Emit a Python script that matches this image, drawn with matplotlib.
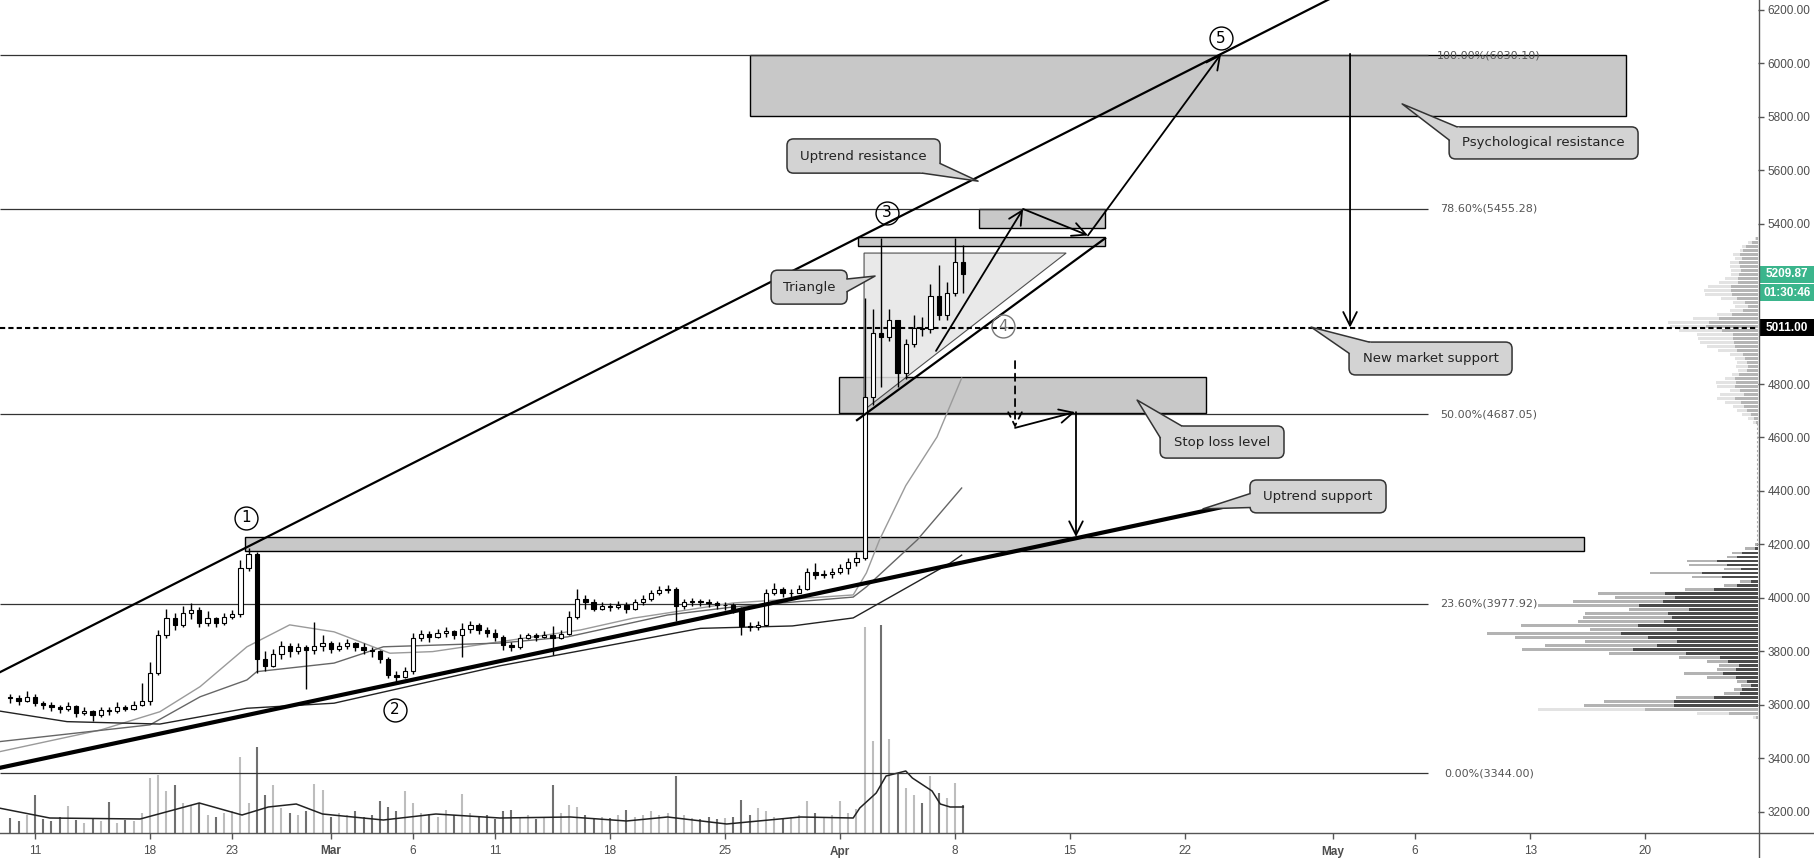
import numpy as np
import matplotlib.pyplot as plt
from matplotlib.patches import Rectangle, Polygon, FancyBboxPatch

# time axis: days since 10 Feb 2019, one candle every half day
closes = [3625, 3615, 3630, 3605, 3600, 3590, 3585, 3595, 3570, 3575, 3560, 3580, 3575, 3590, 3585, 3600,
          3615, 3720, 3860, 3925, 3900, 3945, 3955, 3905, 3925, 3905, 3930, 3940, 4110, 4165, 3770, 3745,
          3790, 3820, 3800, 3815, 3805, 3820, 3830, 3810, 3820, 3830, 3815, 3805, 3800, 3770, 3710, 3705,
          3725, 3850, 3865, 3855, 3870, 3875, 3860, 3885, 3900, 3880, 3870, 3855, 3825, 3815, 3850, 3860,
          3855, 3860, 3850, 3865, 3930, 3995, 3985, 3960, 3970, 3965, 3975, 3960, 3985, 3995, 4020, 4030,
          4035, 3970, 3985, 3990, 3985, 3980, 3975, 3975, 3960, 3895, 3890, 3900, 4020, 4035, 4020, 4020,
          4035, 4095, 4085, 4090, 4095, 4110, 4135, 4150, 4750, 4990, 4975, 5040, 4840, 4950, 5010, 5005,
          5130, 5060, 5140, 5255, 5209.87]
highs = [3640, 3635, 3650, 3640, 3615, 3610, 3600, 3610, 3600, 3590, 3580, 3590, 3590, 3610, 3600, 3615,
         3680, 3760, 3880, 3960, 3945, 3970, 3980, 3965, 3950, 3930, 3945, 3955, 4140, 4185, 4170, 3800,
         3810, 3840, 3830, 3830, 3825, 3910, 3860, 3840, 3835, 3845, 3835, 3830, 3815, 3805, 3780, 3725,
         3740, 3870, 3880, 3875, 3885, 3890, 3880, 3905, 3915, 3905, 3890, 3885, 3860, 3835, 3865, 3870,
         3870, 3875, 3895, 3880, 3950, 4035, 4010, 3995, 3985, 3980, 3990, 3985, 3995, 4010, 4030, 4045,
         4050, 4040, 3995, 4000, 3995, 3995, 3990, 3985, 3980, 3965, 3910, 3915, 4035, 4055, 4040, 4035,
         4050, 4110, 4130, 4105, 4110, 4125, 4150, 4170, 5120, 5080, 5345, 5080, 5030, 4970, 5060, 5050,
         5175, 5245, 5180, 5345, 5320]
lows = [3605, 3600, 3610, 3595, 3585, 3575, 3570, 3575, 3555, 3560, 3540, 3555, 3560, 3570, 3575, 3580,
        3595, 3600, 3710, 3850, 3880, 3890, 3920, 3890, 3895, 3890, 3900, 3920, 3930, 4100, 3720, 3725,
        3740, 3770, 3780, 3790, 3660, 3790, 3800, 3795, 3800, 3810, 3800, 3790, 3780, 3755, 3700, 3685,
        3700, 3715, 3840, 3835, 3850, 3855, 3845, 3780, 3870, 3865, 3855, 3840, 3805, 3800, 3810, 3845,
        3840, 3850, 3785, 3845, 3860, 3920, 3960, 3950, 3955, 3950, 3960, 3945, 3955, 3975, 3990, 4010,
        4020, 3915, 3960, 3970, 3970, 3965, 3960, 3955, 3945, 3860, 3875, 3880, 3895, 4010, 4005, 4005,
        4020, 4030, 4070, 4075, 4075, 4090, 4090, 4120, 4140, 4720, 4790, 4960, 4790, 4820, 4940, 4980,
        4990, 5040, 5040, 5130, 5140]
volumes = [15, 12, 18, 38, 14, 12, 16, 27, 13, 10, 14, 12, 31, 10, 13, 12, 20,
           55, 58, 42, 48, 30, 28, 30, 18, 16, 20, 22, 76, 30, 86, 38, 48, 25,
           20, 18, 22, 49, 43, 16, 20, 18, 22, 16, 18, 32, 26, 22, 42, 30, 20,
           19, 16, 23, 18, 39, 20, 16, 18, 14, 22, 23, 15, 18, 14, 16, 48, 20,
           28, 26, 18, 15, 16, 15, 18, 23, 16, 18, 22, 18, 20, 57, 18, 15, 14,
           16, 14, 15, 16, 33, 18, 25, 22, 16, 14, 16, 18, 32, 20, 16, 18, 32,
           20, 24, 206, 92, 208, 94, 60, 45, 38, 30, 57, 40, 35, 50, 28]
first_open = 3630

# moving averages (day, price)
ma_fast_d = [-1.2, 5.0, 8.6, 11.05, 13.9, 16.5, 19.2, 22.6, 25.2, 29.3, 34.2, 37.4, 43.5, 50.8, 51.6, 52.4, 54.0, 55.9, 57.4]
ma_fast_p = [3424, 3506, 3574, 3668, 3817, 3899, 3873, 3793, 3799, 3836, 3880, 3924, 3981, 4011, 4093, 4217, 4420, 4602, 4822]
ma_mid_d = [-1.2, 8.0, 11.05, 13.9, 14.5, 19.2, 22.2, 29.3, 33.4, 39.5, 43.5, 50.8, 51.6, 54.7, 57.4]
ma_mid_p = [3462, 3525, 3630, 3693, 3724, 3756, 3817, 3831, 3854, 3936, 3966, 4003, 4041, 4217, 4411]
ma_slow_d = [-1.2, 2.95, 8.6, 13.9, 19.2, 29.3, 41.5, 47.1, 50.8, 56.7, 57.4]
ma_slow_p = [3577, 3537, 3528, 3587, 3606, 3746, 3886, 3895, 3925, 4130, 4160]
vol_ma_d = [-1.2, 1.9, 7.4, 11.0, 13.6, 15.2, 16.9, 18.5, 22.2, 25.4, 29.3, 33.6, 37.0, 39.5, 43.1, 47.6,
            50.8, 51.2, 52.2, 52.8, 54.0, 54.4, 55.6, 56.1, 56.7, 57.5]
vol_ma_v = [25, 15, 14, 30, 18, 26, 29, 19, 13, 19, 15, 16, 12, 16, 9, 16, 15, 25, 40, 57, 62, 55, 42, 29, 26, 26]

# fibonacci retracement
fib_pct = [100.0, 78.6, 50.0, 23.6, 0.0]
fib_lvl = [6030.10, 5455.28, 4687.05, 3977.92, 3344.00]

# volume profile, rows of 15 price units from the top price down
vp_upper_top = 5346
vp_upper_total = [3, 10, 16, 18, 25, 23, 28, 28, 27, 27, 33, 39, 50, 54, 53, 37, 25, 23, 28, 41, 65, 90, 88, 79,
                  61, 60, 58, 51, 40, 28, 23, 21, 22, 20, 26, 33, 42, 41, 28, 38, 41, 33, 25, 21, 16, 10, 5]
vp_upper_inner = [2, 6, 12, 15, 18, 16, 19, 18, 17, 19, 20, 20, 27, 27, 26, 21, 13, 10, 15, 26, 39, 49, 52, 36,
                  25, 25, 24, 23, 21, 15, 13, 11, 10, 11, 19, 23, 22, 23, 18, 14, 23, 17, 14, 11, 7, 4, 2]
vp_lower_top = 4198
vp_lower_total = [3, 13, 26, 31, 71, 69, 34, 108, 66, 18, 34, 73, 160, 143, 185, 220, 129, 173, 175, 180, 237,
                  168, 271, 243, 173, 213, 236, 149, 79, 51, 39, 41, 74, 51, 21, 17, 24, 34, 82, 154, 174]
vp_lower_inner = [1, 3, 16, 21, 41, 31, 17, 56, 36, 7, 21, 44, 93, 83, 95, 119, 69, 90, 86, 94, 120, 81, 137,
                  110, 81, 101, 125, 72, 38, 30, 19, 22, 35, 22, 11, 7, 16, 18, 44, 84, 84]
vp_base_top = 3583
vp_base_total = [220, 61, 5]
vp_base_inner = [113, 29, 2]

xtick_days = [1, 8, 13, 19, 24, 29, 36, 43, 50, 57, 64, 71, 80, 85, 92, 99]
xtick_labels = ['11', '18', '23', 'Mar', '6', '11', '18', '25', 'Apr', '8', '15', '22', 'May', '6', '13', '20']
ytick_values = [3200, 3400, 3600, 3800, 4000, 4200, 4400, 4600, 4800, 5400, 5600, 5800, 6000, 6200]

last_price = 5209.87
countdown = '01:30:46'
market_support = 5011.00

# ---------------------------------------------------------------
W, H = 1814, 858
fig = plt.figure(figsize=(W / 100, H / 100), dpi=100)
fig.patch.set_facecolor('white')
rect = [0, 25 / H, 1758 / W, 833 / H]
XLIM = (-1.13, 105.87)
YLIM = (3120.4, 6236.7)
AXFONT = 'Liberation Sans'

vax = fig.add_axes(rect, label='volume')
vax.set_xlim(*XLIM)
vax.set_ylim(0, 833)
vax.axis('off')

pax = fig.add_axes([1258 / W, 25 / H, 500 / W, 833 / H], label='profile')
pax.set_xlim(500, 0)
pax.set_ylim(*YLIM)
pax.axis('off')

ax = fig.add_axes(rect, label='price')
ax.set_xlim(*XLIM)
ax.set_ylim(*YLIM)
ax.patch.set_alpha(0)
for s in ax.spines.values():
    s.set_visible(False)

t = np.arange(len(closes)) * 0.5 - 0.5
opens = [first_open] + closes[:-1]
up = np.array(closes) >= np.array(opens)

# volume bars + MA
vax.vlines(t, 0, volumes, colors=np.where(up, '#bdbdbd', '#707070'), lw=1.5)
vax.plot(vol_ma_d, vol_ma_v, color='#222222', lw=1.1)

# volume profile
def profile(top, total, inner, c_in, c_out):
    y = top - 15 * np.arange(len(total))
    pax.barh(y, total, height=11, left=0, color=c_out, lw=0)
    pax.barh(y, inner, height=11, left=0, color=c_in, lw=0)

profile(vp_upper_top, vp_upper_total, vp_upper_inner, '#b5b5b5', '#e3e3e3')
profile(vp_lower_top, vp_lower_total, vp_lower_inner, '#4b4b4b', '#b3b3b3')
profile(vp_base_top, vp_base_total, vp_base_inner, '#b5b5b5', '#e3e3e3')
pax.vlines(1.5, 4198, 4656, color='#aaaaaa', lw=0.8, ls=(0, (2, 2)))

# fibonacci levels
for pct, lvl in zip(fib_pct, fib_lvl):
    ax.hlines(lvl, XLIM[0], 85.8, color='#333333', lw=0.9, zorder=2)
    ax.text(89.5, lvl, f'{pct:.2f}%({lvl:.2f})', ha='center', va='center', fontsize=8, color='#555555', zorder=2)

ax.axhline(market_support, color='black', lw=1.5, ls=(0, (2.5, 1.5)), zorder=2)

# rectangles (zones)
zones = [(44.52, 97.84, 5804, 6030), (58.46, 66.13, 5384, 5455), (51.1, 66.13, 5316, 5350),
         (49.94, 72.28, 4690, 4828), (13.79, 95.28, 4174, 4228)]
for x0, x1, y0, y1 in zones:
    ax.add_patch(Rectangle((x0, y0), x1 - x0, y1 - y0, fc='#c8c8c8', ec='black', lw=1, zorder=1))

ax.add_patch(Polygon([(51.46, 5290), (63.76, 5290), (51.46, 4703)], closed=True,
                     fc='#e6e6e6', ec='#333333', lw=0.8, alpha=0.85, zorder=1.5))

# moving averages
ax.plot(ma_fast_d, ma_fast_p, color='#9a9a9a', lw=1.0, zorder=2.5)
ax.plot(ma_mid_d, ma_mid_p, color='#666666', lw=1.0, zorder=2.5)
ax.plot(ma_slow_d, ma_slow_p, color='#222222', lw=1.0, zorder=2.5)

# candles
ax.vlines(t, lows, highs, color='black', lw=1.0, zorder=3)
body = np.array(closes) - np.array(opens)
ax.bar(t, body, bottom=opens, width=0.26, color=np.where(up, 'white', 'black'),
       edgecolor='black', lw=0.8, zorder=3.5)

# trend lines
ax.plot([-2, 82], [3695, 6309], color='black', lw=1.6, zorder=4)
ax.plot([-2, 75.26], [3353, 4366], color='black', lw=3.0, zorder=4)
ax.plot([51.03, 66.13], [4665, 5345], color='black', lw=1.6, zorder=4)

def arrow(p0, p1, ls='-'):
    ax.annotate('', xy=p1, xytext=p0, zorder=5,
                arrowprops=dict(arrowstyle='->,head_length=0.7,head_width=0.35', color='black',
                                lw=1.3, ls=ls, shrinkA=0, shrinkB=0, mutation_scale=14))

arrow((55.84, 4924), (61.14, 5455))
arrow((61.14, 5455), (65.09, 5356))
arrow((65.09, 5356), (73.19, 6035))
arrow((81.04, 6035), (81.04, 5011))
arrow((60.65, 4886), (60.65, 4636), ls=(0, (4, 3)))
arrow((60.65, 4636), (64.3, 4695))
arrow((64.36, 4695), (64.36, 4228))

# wave counts
waves = [('1', 13.83, 4299, 'black'), ('2', 22.91, 3581, 'black'), ('3', 52.86, 5440, 'black'),
         ('4', 59.92, 5017, '#777777'), ('5', 73.17, 6094, 'black')]
for lab, wx, wy, c in waves:
    ax.plot(wx, wy, 'o', ms=16.5, mfc='none', mec=c, mew=1.0, zorder=5)
    ax.text(wx, wy, lab, ha='center', va='center', fontsize=11, color=c, zorder=5)

# callouts
ASP = 3.741 * 16.43

def callout(text, x0, x1, y0, y1, tip, b1, b2):
    ax.add_patch(FancyBboxPatch((x0, y0), x1 - x0, y1 - y0,
                                boxstyle='round,pad=0,rounding_size=0.4', mutation_aspect=ASP,
                                fc='#d3d3d3', ec='#333333', lw=1.1, zorder=6))
    cx, cy = (x0 + x1) / 2, (y0 + y1) / 2
    i1 = (b1[0] + (cx - b1[0]) * 0.06, b1[1] + (cy - b1[1]) * 0.12)
    i2 = (b2[0] + (cx - b2[0]) * 0.06, b2[1] + (cy - b2[1]) * 0.12)
    ax.add_patch(Polygon([i1, b1, tip, b2, i2], closed=True, fc='#d3d3d3', lw=0, zorder=6.1))
    ax.plot([b1[0], tip[0], b2[0]], [b1[1], tip[1], b2[1]], color='#333333', lw=1.1, zorder=6.2)
    ax.text(cx, cy, text, ha='center', va='center', fontsize=9.5, color='#222222', zorder=6.3)

callout('Uptrend resistance', 46.77, 56.09, 5589, 5717, (58.4, 5559), (56.09, 5625), (55.0, 5589))
callout('Triangle', 45.80, 50.43, 5099, 5226, (52.13, 5204), (50.43, 5193), (50.43, 5146))
callout('New market support', 80.98, 90.90, 4834, 4957, (78.67, 5013), (82.2, 4957), (80.98, 4915))
callout('Stop loss level', 69.48, 77.02, 4523, 4643, (68.08, 4740), (70.8, 4643), (69.48, 4600))
callout('Uptrend support', 74.95, 83.23, 4318, 4441, (72.09, 4333), (74.95, 4390), (74.95, 4338))
callout('Psychological resistance', 87.07, 98.57, 5642, 5762, (84.21, 5848), (87.55, 5762), (87.07, 5713))

# axes ticks
ax.yaxis.tick_right()
ax.set_yticks(ytick_values)
ax.set_yticklabels([f'{v:.2f}' for v in ytick_values])
ax.set_xticks(xtick_days)
ax.set_xticklabels(xtick_labels)
ax.tick_params(axis='both', direction='out', length=4, width=1, color='#555555',
               labelcolor='#4d4d4d', labelsize=8.5)
ax.tick_params(axis='y', pad=3)
ax.tick_params(axis='x', pad=5)
for lab in ax.get_yticklabels() + ax.get_xticklabels():
    lab.set_fontfamily(AXFONT)
for lab in ax.get_xticklabels():
    if not lab.get_text().isdigit():
        lab.set_fontweight('bold')

# frame lines
fig.add_artist(plt.Line2D([1758.5 / W, 1758.5 / W], [0, 1], color='#555555', lw=1))
fig.add_artist(plt.Line2D([0, 1], [25 / H, 25 / H], color='#555555', lw=1))

# price labels on the axis
def axis_box(price, text, fc, dy=0):
    yp = ax.transData.transform((0, price))[1] + dy
    fig.add_artist(Rectangle((1759 / W, (yp - 8.5) / H), 55 / W, 17 / H, fc=fc, ec='none',
                             transform=fig.transFigure))
    fig.text(1787 / W, yp / H, text, ha='center', va='center', color='white', fontsize=8.5,
             fontweight='bold', family=AXFONT)

axis_box(last_price, f'{last_price:.2f}', '#3bb58c')
axis_box(last_price, countdown, '#3bb58c', dy=-18.5)
axis_box(market_support, f'{market_support:.2f}', 'black')

fig.savefig('out.png', dpi=100, facecolor='white')
